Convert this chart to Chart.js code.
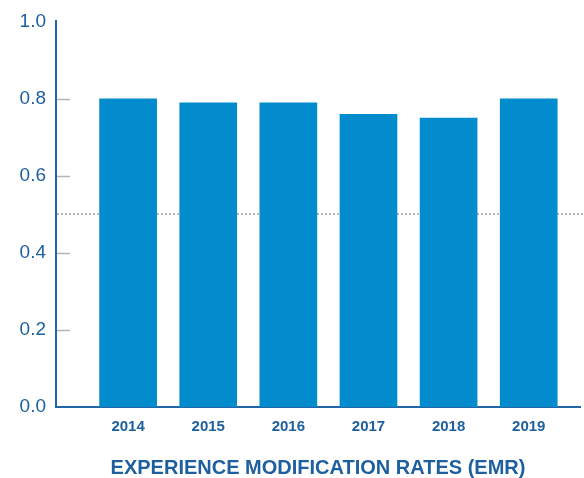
<!DOCTYPE html>
<html>
<head>
<meta charset="utf-8">
<script src="https://cdn.jsdelivr.net/npm/chart.js@4"></script>
<style>
    html, body { margin: 0; padding: 0; background: #fff; }
    #wrap { width: 584px; height: 478px; }
</style>
</head>
<body>
<div id="wrap"><canvas id="myChart" width="584" height="478"></canvas></div>
<script>
var years = ['2014', '2015', '2016', '2017', '2018', '2019'];
var emrValues = [0.80, 0.79, 0.79, 0.76, 0.75, 0.80];
var yTicks = [0.0, 0.2, 0.4, 0.6, 0.8, 1.0];
var refLine = 0.5; // dotted line
var axisTitle = 'EXPERIENCE MODIFICATION RATES (EMR)';

var textColor = '#1d5f9f';
var axisColor = '#2366a8';
var barColor = '#028bcd';

//////////////////////////////////////
//          Extra drawing           //
//////////////////////////////////////

const extrasPlugin = {
    id: 'extras',
    beforeDatasetsDraw: function(chart) {
        const ctx = chart.ctx;
        const y = chart.scales.y;
        const area = chart.chartArea;

        // dotted reference line
        ctx.save();
        ctx.strokeStyle = '#b8b8b8';
        ctx.lineWidth = 2;
        ctx.setLineDash([2, 2]);
        ctx.beginPath();
        let py = Math.round(y.getPixelForValue(refLine));
        ctx.moveTo(area.left + 1, py);
        ctx.lineTo(chart.width, py);
        ctx.stroke();
        ctx.restore();

        // short tick marks inside the axis
        ctx.save();
        ctx.strokeStyle = '#b5b5b5';
        ctx.lineWidth = 1.5;
        yTicks.forEach(function(v) {
            if (v <= y.min || v >= y.max) return;
            let p = Math.round(y.getPixelForValue(v)) + 0.5;
            ctx.beginPath();
            ctx.moveTo(area.left + 1, p);
            ctx.lineTo(area.left + 14, p);
            ctx.stroke();
        });
        ctx.restore();
    }
};

//////////////////////////////////////
//             Chart                //
//////////////////////////////////////

function initChart() {
    const ctx = document.getElementById('myChart').getContext('2d');
    new Chart(ctx, {
        type: 'bar',
        data: {
            datasets: [{
                data: emrValues.map(function(v, i) { return { x: i, y: v }; }),
                backgroundColor: barColor,
                borderWidth: 0,
                categoryPercentage: 1,
                barPercentage: 0.72
            }]
        },
        options: {
            responsive: false,
            animation: false,
            layout: { padding: { top: 19, right: 4, left: 0, bottom: 0 } },
            plugins: {
                legend: { display: false },
                tooltip: { enabled: false }
            },
            scales: {
                x: {
                    type: 'linear',
                    offset: false,
                    min: -0.9,
                    max: 5.64,
                    grid: { display: false, drawTicks: false },
                    border: { display: true, color: axisColor, width: 2 },
                    ticks: {
                        stepSize: 1,
                        includeBounds: false,
                        padding: 11,
                        color: textColor,
                        font: { family: 'Liberation Sans', size: 15, weight: 'bold' },
                        callback: function(v) { return years[v] || ''; }
                    },
                    title: {
                        display: true,
                        text: axisTitle,
                        color: textColor,
                        font: { family: 'Liberation Sans', size: 20, weight: 'bold', lineHeight: 1 },
                        padding: { top: 11, bottom: 0 }
                    }
                },
                y: {
                    min: 0,
                    max: 1,
                    grid: { display: false, drawTicks: false },
                    border: { display: true, color: axisColor, width: 2 },
                    afterFit: function(scale) { scale.width = 56; },
                    ticks: {
                        stepSize: 0.2,
                        padding: 10,
                        color: textColor,
                        font: { family: 'Liberation Sans', size: 19 },
                        callback: function(v) { return v.toFixed(1); }
                    }
                }
            }
        },
        plugins: [extrasPlugin]
    });
}
window.onload = initChart;
</script>
</body>
</html>
